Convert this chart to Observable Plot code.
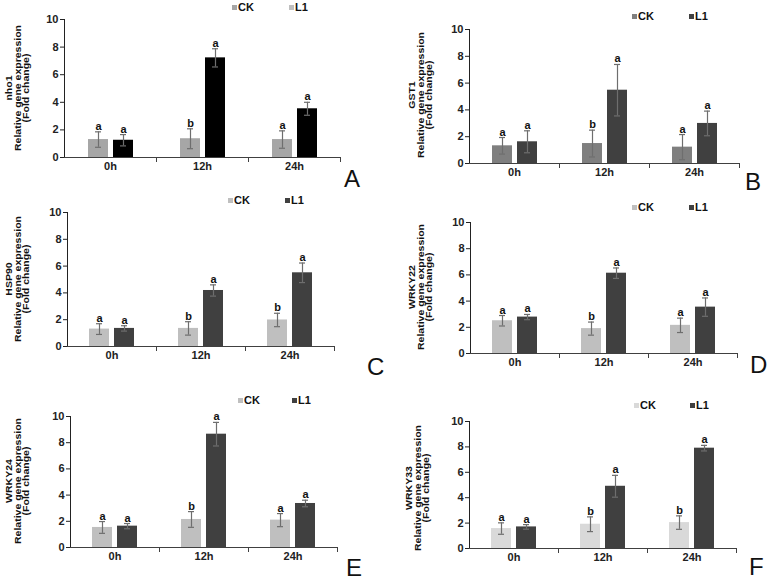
<!DOCTYPE html>
<html>
<head>
<meta charset="utf-8">
<script src="https://cdn.jsdelivr.net/npm/d3@7"></script>
<script src="https://cdn.jsdelivr.net/npm/@observablehq/plot@0.6"></script>
<style>
  html, body { margin: 0; padding: 0; background: #fff; }
  #root { position: relative; width: 767px; height: 580px; overflow: hidden; font-family: "Liberation Sans", Arial, sans-serif; }
  .leg { position: absolute; font-weight: bold; font-size: 11px; line-height: 11px; color: #111; white-space: nowrap; }
  .sq { position: absolute; width: 5px; height: 5px; }
  .ytitle { position: absolute; width: 160px; text-align: center; font-weight: bold; font-size: 10.5px; line-height: 11px; color: #111; transform: translate(-50%, -50%) rotate(-90deg) scaleY(0.78); white-space: nowrap; }
  .plabel { position: absolute; font-size: 24px; line-height: 20px; color: #111; font-weight: normal; }
</style>
</head>
<body>
<div id="root"></div>
<script>
// ---- data ----
const times = ["0h", "12h", "24h"];
const seriesNames = ["CK", "L1"];
const genes = ["nho1", "GST1", "HSP90", "WRKY22", "WRKY24", "WRKY33"];
const panelLetters = ["A", "B", "C", "D", "E", "F"];
const yTicks = [0, 2, 4, 6, 8, 10];

const nho1CK = [1.3, 1.36, 1.3];
const nho1CKErr = [0.56, 0.72, 0.63];
const nho1L1 = [1.25, 7.22, 3.53];
const nho1L1Err = [0.41, 0.66, 0.47];
const nho1CKSig = ["a", "b", "a"];
const nho1L1Sig = ["a", "a", "a"];

const gst1CK = [1.32, 1.49, 1.22];
const gst1CKErr = [0.62, 1.0, 0.94];
const gst1L1 = [1.62, 5.47, 2.99];
const gst1L1Err = [0.82, 1.92, 0.92];
const gst1CKSig = ["a", "b", "a"];
const gst1L1Sig = ["a", "a", "a"];

const hsp90CK = [1.3, 1.35, 1.98];
const hsp90CKErr = [0.4, 0.5, 0.5];
const hsp90L1 = [1.35, 4.18, 5.5];
const hsp90L1Err = [0.2, 0.42, 0.73];
const hsp90CKSig = ["a", "b", "b"];
const hsp90L1Sig = ["a", "a", "a"];

const wrky22CK = [2.5, 1.9, 2.15];
const wrky22CKErr = [0.4, 0.5, 0.55];
const wrky22L1 = [2.78, 6.13, 3.54];
const wrky22L1Err = [0.2, 0.4, 0.7];
const wrky22CKSig = ["a", "b", "a"];
const wrky22L1Sig = ["a", "a", "a"];

const wrky24CK = [1.53, 2.14, 2.09];
const wrky24CKErr = [0.45, 0.6, 0.5];
const wrky24L1 = [1.63, 8.65, 3.36];
const wrky24L1Err = [0.2, 0.9, 0.25];
const wrky24CKSig = ["a", "b", "a"];
const wrky24L1Sig = ["a", "a", "a"];

const wrky33CK = [1.57, 1.91, 2.04];
const wrky33CKErr = [0.45, 0.58, 0.53];
const wrky33L1 = [1.7, 4.9, 7.9];
const wrky33L1Err = [0.18, 0.86, 0.22];
const wrky33CKSig = ["a", "b", "b"];
const wrky33L1Sig = ["a", "a", "a"];

const ckMeans = [nho1CK, gst1CK, hsp90CK, wrky22CK, wrky24CK, wrky33CK];
const ckErrs = [nho1CKErr, gst1CKErr, hsp90CKErr, wrky22CKErr, wrky24CKErr, wrky33CKErr];
const ckSigs = [nho1CKSig, gst1CKSig, hsp90CKSig, wrky22CKSig, wrky24CKSig, wrky33CKSig];
const l1Means = [nho1L1, gst1L1, hsp90L1, wrky22L1, wrky24L1, wrky33L1];
const l1Errs = [nho1L1Err, gst1L1Err, hsp90L1Err, wrky22L1Err, wrky24L1Err, wrky33L1Err];
const l1Sigs = [nho1L1Sig, gst1L1Sig, hsp90L1Sig, wrky22L1Sig, wrky24L1Sig, wrky33L1Sig];

// ---- styles / layout ----
const ckColors = ["#a6a6a6", "#7f7f7f", "#bfbfbf", "#bfbfbf", "#bfbfbf", "#d9d9d9"];
const l1Colors = ["#000000", "#404040", "#404040", "#404040", "#404040", "#404040"];
const legendCKColors = ["#a6a6a6", "#7f7f7f", "#bfbfbf", "#bfbfbf", "#bfbfbf", "#d9d9d9"];
const legendL1Colors = ["#bfbfbf", "#404040", "#404040", "#404040", "#404040", "#404040"];

// frame geometry per panel: left of y axis, facet width, y of 10, y of 0
const geomLeft = [64, 469, 66, 470, 70, 469];
const geomFw = [92, 90, 89.5, 89, 89, 89];
const geomTop = [19, 29, 212, 222, 416, 421];
const geomBottom = [157, 163, 346, 353, 547, 548];
// legend: square x positions and center y
const legCKx = [232, 632, 228, 632, 238, 634];
const legL1x = [289, 689, 285, 689, 292, 690];
const legY = [7, 16, 200, 207, 400, 405];
// y title center x (middle line) and center y
const ytX = [18, 421, 18, 421, 18, 418];
const ytY = [88, 95, 279, 287, 481, 488];
// panel letter position (left, baseline)
const plX = [344, 745, 367, 750, 346, 749];
const plY = [187, 190, 375, 373, 576, 575];

const root = document.getElementById("root");
const mL = 32, mR = 6, mT = 18, mB = 26;
const axisColor = "#404040";
const errColor = "#6e6e6e";

for (let i = 0; i < 6; i++) {
  const rows = [];
  times.forEach((t, j) => {
    rows.push({time: t, series: "CK", mean: ckMeans[i][j], err: ckErrs[i][j], sig: ckSigs[i][j]});
    rows.push({time: t, series: "L1", mean: l1Means[i][j], err: l1Errs[i][j], sig: l1Sigs[i][j]});
  });
  const innerH = geomBottom[i] - geomTop[i];
  const width = mL + 3 * geomFw[i] + mR;
  const height = mT + innerH + mB;
  const chart = Plot.plot({
    width, height,
    marginLeft: mL, marginRight: mR, marginTop: mT, marginBottom: mB,
    style: {fontFamily: "'Liberation Sans', Arial, sans-serif", fontSize: "11px", fontWeight: "bold", color: "#222", background: "transparent", overflow: "visible"},
    fx: {domain: times, padding: 0, axis: "bottom", tickSize: 0, tickPadding: 5, label: null},
    x: {domain: seriesNames, paddingInner: 0.2, paddingOuter: 0.87, axis: null},
    y: {domain: [0, 10], ticks: yTicks, tickSize: 4, tickPadding: 2, line: true, label: null},
    color: {domain: seriesNames, range: [ckColors[i], l1Colors[i]]},
    marks: [
      Plot.barY(rows, {fx: "time", x: "series", y: "mean", fill: "series"}),
      Plot.ruleY([0], {stroke: axisColor}),
      Plot.frame({anchor: "right", insetTop: innerH, insetBottom: -4, stroke: axisColor}),
      Plot.ruleX(rows, {fx: "time", x: "series", y1: d => d.mean - d.err, y2: d => d.mean + d.err, stroke: errColor, strokeWidth: 1.2}),
      Plot.tickY(rows, {fx: "time", x: "series", y: d => d.mean - d.err, insetLeft: 7, insetRight: 7, stroke: errColor, strokeWidth: 1.2}),
      Plot.tickY(rows, {fx: "time", x: "series", y: d => d.mean + d.err, insetLeft: 7, insetRight: 7, stroke: errColor, strokeWidth: 1.2}),
      Plot.text(rows, {fx: "time", x: "series", y: d => d.mean + d.err, text: "sig", lineAnchor: "bottom", dy: -2, fontWeight: "bold", fontSize: 11, fill: "#111"})
    ]
  });
  chart.style.position = "absolute";
  chart.style.left = (geomLeft[i] - mL) + "px";
  chart.style.top = (geomTop[i] - mT) + "px";
  root.appendChild(chart);

  // legend
  [[legCKx[i], legendCKColors[i], seriesNames[0]], [legL1x[i], legendL1Colors[i], seriesNames[1]]].forEach(([x, c, name]) => {
    const sq = document.createElement("div");
    sq.className = "sq";
    sq.style.left = x + "px";
    sq.style.top = (legY[i] - 2.5) + "px";
    sq.style.background = c;
    root.appendChild(sq);
    const tx = document.createElement("div");
    tx.className = "leg";
    tx.style.left = (x + 6) + "px";
    tx.style.top = (legY[i] - 5.5) + "px";
    tx.textContent = name;
    root.appendChild(tx);
  });

  // y title
  const yt = document.createElement("div");
  yt.className = "ytitle";
  yt.style.left = ytX[i] + "px";
  yt.style.top = ytY[i] + "px";
  [genes[i], "Relative gene expression", "(Fold change)"].forEach(s => {
    const d = document.createElement("div");
    d.textContent = s;
    yt.appendChild(d);
  });
  root.appendChild(yt);

  // panel letter
  const pl = document.createElement("div");
  pl.className = "plabel";
  pl.style.left = plX[i] + "px";
  pl.style.top = (plY[i] - 18) + "px";
  pl.textContent = panelLetters[i];
  root.appendChild(pl);
}
</script>
</body>
</html>
